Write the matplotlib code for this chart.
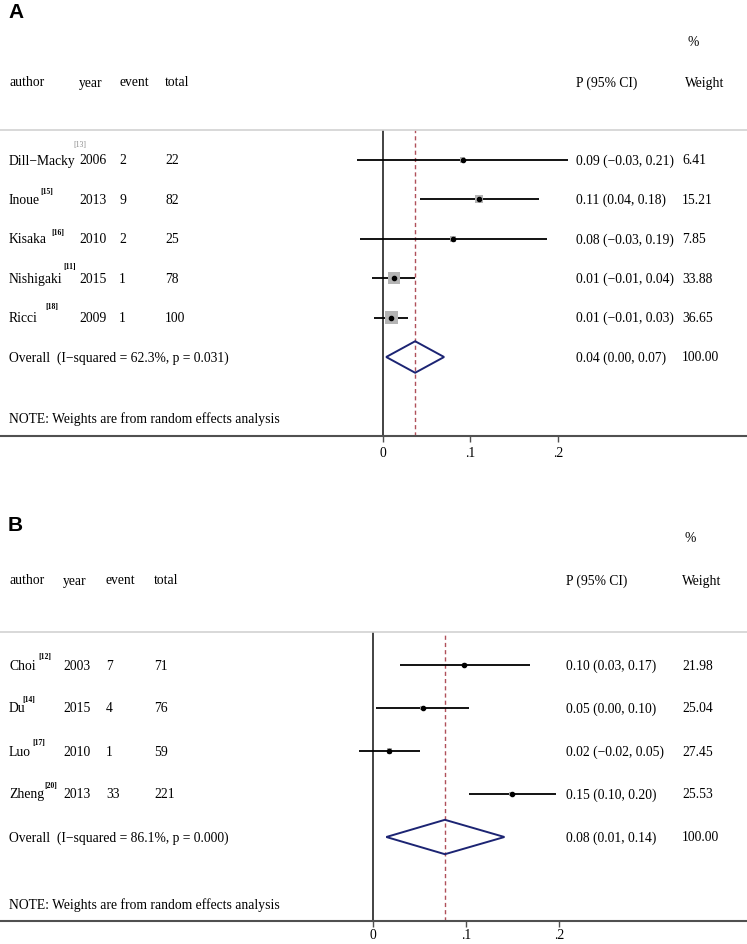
import matplotlib
matplotlib.use("Agg")
import matplotlib.pyplot as plt

W, H = 747, 945
plt.rcParams["font.family"] = ["Liberation Serif", "DejaVu Serif"]
FS = 9.8

# ---- panel A data
a_author = ["Dill−Macky", "Inoue", "Kisaka", "Nishigaki", "Ricci"]
a_ref = ["[13]", "[15]", "[16]", "[11]", "[18]"]
a_year = [2006, 2013, 2010, 2015, 2009]
a_event = [2, 9, 2, 1, 1]
a_total = [22, 82, 25, 78, 100]
a_p = [0.091, 0.110, 0.080, 0.013, 0.010]
a_lo = [-0.029, 0.043, -0.026, -0.012, -0.010]
a_hi = [0.211, 0.178, 0.187, 0.037, 0.029]
a_ci_txt = ["0.09 (−0.03, 0.21)", "0.11 (0.04, 0.18)", "0.08 (−0.03, 0.19)",
            "0.01 (−0.01, 0.04)", "0.01 (−0.01, 0.03)"]
a_weight = [6.41, 15.21, 7.85, 33.88, 36.65]
a_overall = [0.037, 0.004, 0.070]
a_overall_txt = "0.04 (0.00, 0.07)"
a_overall_lbl = "Overall  (I−squared = 62.3%, p = 0.031)"

# ---- panel B data
b_author = ["Choi", "Du", "Luo", "Zheng"]
b_ref = ["[12]", "[14]", "[17]", "[20]"]
b_year = [2003, 2015, 2010, 2013]
b_event = [7, 4, 1, 33]
b_total = [71, 76, 59, 221]
b_p = [0.098, 0.053, 0.017, 0.149]
b_lo = [0.029, 0.003, -0.015, 0.103]
b_hi = [0.168, 0.103, 0.050, 0.196]
b_ci_txt = ["0.10 (0.03, 0.17)", "0.05 (0.00, 0.10)", "0.02 (−0.02, 0.05)",
            "0.15 (0.10, 0.20)"]
b_weight = [21.98, 25.04, 27.45, 25.53]
b_overall = [0.077, 0.014, 0.141]
b_overall_txt = "0.08 (0.01, 0.14)"
b_overall_lbl = "Overall  (I−squared = 86.1%, p = 0.000)"

ticks = [0, 0.1, 0.2]
tick_lbl = ["0", ".1", ".2"]
note = "NOTE: Weights are from random effects analysis"

fig = plt.figure(figsize=(W / 100, H / 100), dpi=100)


def draw_panel(letter, top, bottom, row0, step, zero_px, ppu, cols, right_cols,
               header_y, pct_y, ref_pos, ref_style, box_k, tick_pad,
               author, ref, year, event, total, p, lo, hi, ci_txt, weight,
               overall, overall_txt, overall_lbl):
    ax = fig.add_axes([0, 1 - bottom / H, 1, (bottom - top) / H])
    n = len(author)
    ax.set_xlim(-zero_px / ppu, (W - zero_px) / ppu)
    ax.set_ylim((bottom - row0) / step, (top - row0) / step)
    for s in ["left", "right"]:
        ax.spines[s].set_visible(False)
    ax.spines["top"].set_color("#d2d2d2")
    ax.spines["top"].set_linewidth(1.2)
    ax.spines["bottom"].set_color("#505050")
    ax.spines["bottom"].set_linewidth(1.5)
    ax.set_yticks([])
    ax.set_xticks(ticks)
    ax.set_xticklabels(tick_lbl, fontsize=FS)
    ax.tick_params(axis="x", length=4, width=1, color="#505050", pad=tick_pad)

    ax.axvline(0, color="#222222", lw=1.2, zorder=1)
    ax.axvline(overall[0], color="#b0505a", lw=1.0, ls=(0, (3, 2.2)), zorder=1)

    rows = list(range(n))
    ax.hlines(rows, lo, hi, color="black", lw=1.3, zorder=2)
    ax.scatter(p, rows, marker="s", s=[box_k * w for w in weight],
               color="#b4b4b4", linewidths=0, zorder=3)
    ax.scatter(p, rows, marker="o", s=9, color="black", zorder=4)

    # overall diamond
    yo = n
    est, dlo, dhi = overall
    ax.fill([dlo, est, dhi, est, dlo], [yo, yo - 0.4, yo, yo + 0.4, yo],
            facecolor="none", edgecolor="#1c2473", lw=1.4, zorder=3)

    tr = ax.get_yaxis_transform()
    for i in range(n):
        vals = [author[i], str(year[i]), str(event[i]), str(total[i])]
        for x, v in zip(cols, vals):
            ax.text(x / W, i, v, transform=tr, fontsize=FS, va="center")
        rx, dy = ref_pos[i]
        color, weight_ = ref_style[i]
        ax.text(rx / W, i + dy / step, ref[i], transform=tr, fontsize=5.5,
                va="center", color=color, fontweight=weight_)
        ax.text(right_cols[0] / W, i, ci_txt[i], transform=tr, fontsize=FS, va="center")
        ax.text(right_cols[1] / W, i, f"{weight[i]:.2f}", transform=tr,
                fontsize=FS, va="center")
    ax.text(cols[0] / W, yo, overall_lbl, transform=tr, fontsize=FS, va="center")
    ax.text(right_cols[0] / W, yo, overall_txt, transform=tr, fontsize=FS, va="center")
    ax.text(right_cols[1] / W, yo, "100.00", transform=tr, fontsize=FS, va="center")
    ax.text(cols[0] / W, n + 1.55, note, transform=tr, fontsize=FS, va="center")

    # headers
    for x, v in zip(cols, ["author", "year", "event", "total"]):
        fig.text(x / W, 1 - header_y / H, v, fontsize=FS, va="center")
    fig.text(right_cols[0] / W, 1 - header_y / H, "P (95% CI)", fontsize=FS, va="center")
    fig.text(right_cols[2] / W, 1 - header_y / H, "Weight", fontsize=FS, va="center")
    fig.text(right_cols[2] / W + 0.003, 1 - pct_y / H, "%", fontsize=FS, va="center")
    fig.text(8 / W, 1 - letter[1] / H, letter[0], fontsize=15, fontweight="bold",
             family="Liberation Sans", va="center")
    return ax


draw_panel(("A", 13), 131, 437, 161, 39.4, 382.7, 877, [9, 79, 119, 165],
           [576, 682, 685], 83, 43,
           [(73, -16), (40, -8), (51, -7), (63, -12), (45, -12)],
           [("#888888", "normal"), ("black", "bold"), ("black", "bold"),
            ("black", "bold"), ("black", "bold")],
           2.2, 3.5,
           a_author, a_ref, a_year, a_event, a_total, a_p, a_lo, a_hi, a_ci_txt,
           a_weight, a_overall, a_overall_txt, a_overall_lbl)

draw_panel(("B", 526), 633, 922, 666, 43, 373.3, 930, [9, 63, 106, 154],
           [566, 682, 682], 581, 538,
           [(38, -9), (22, -9), (32, -9), (44, -9)],
           [("black", "bold")] * 4,
           0.5, 1.0,
           b_author, b_ref, b_year, b_event, b_total, b_p, b_lo, b_hi, b_ci_txt,
           b_weight, b_overall, b_overall_txt, b_overall_lbl)

fig.savefig("out.png", dpi=100)
